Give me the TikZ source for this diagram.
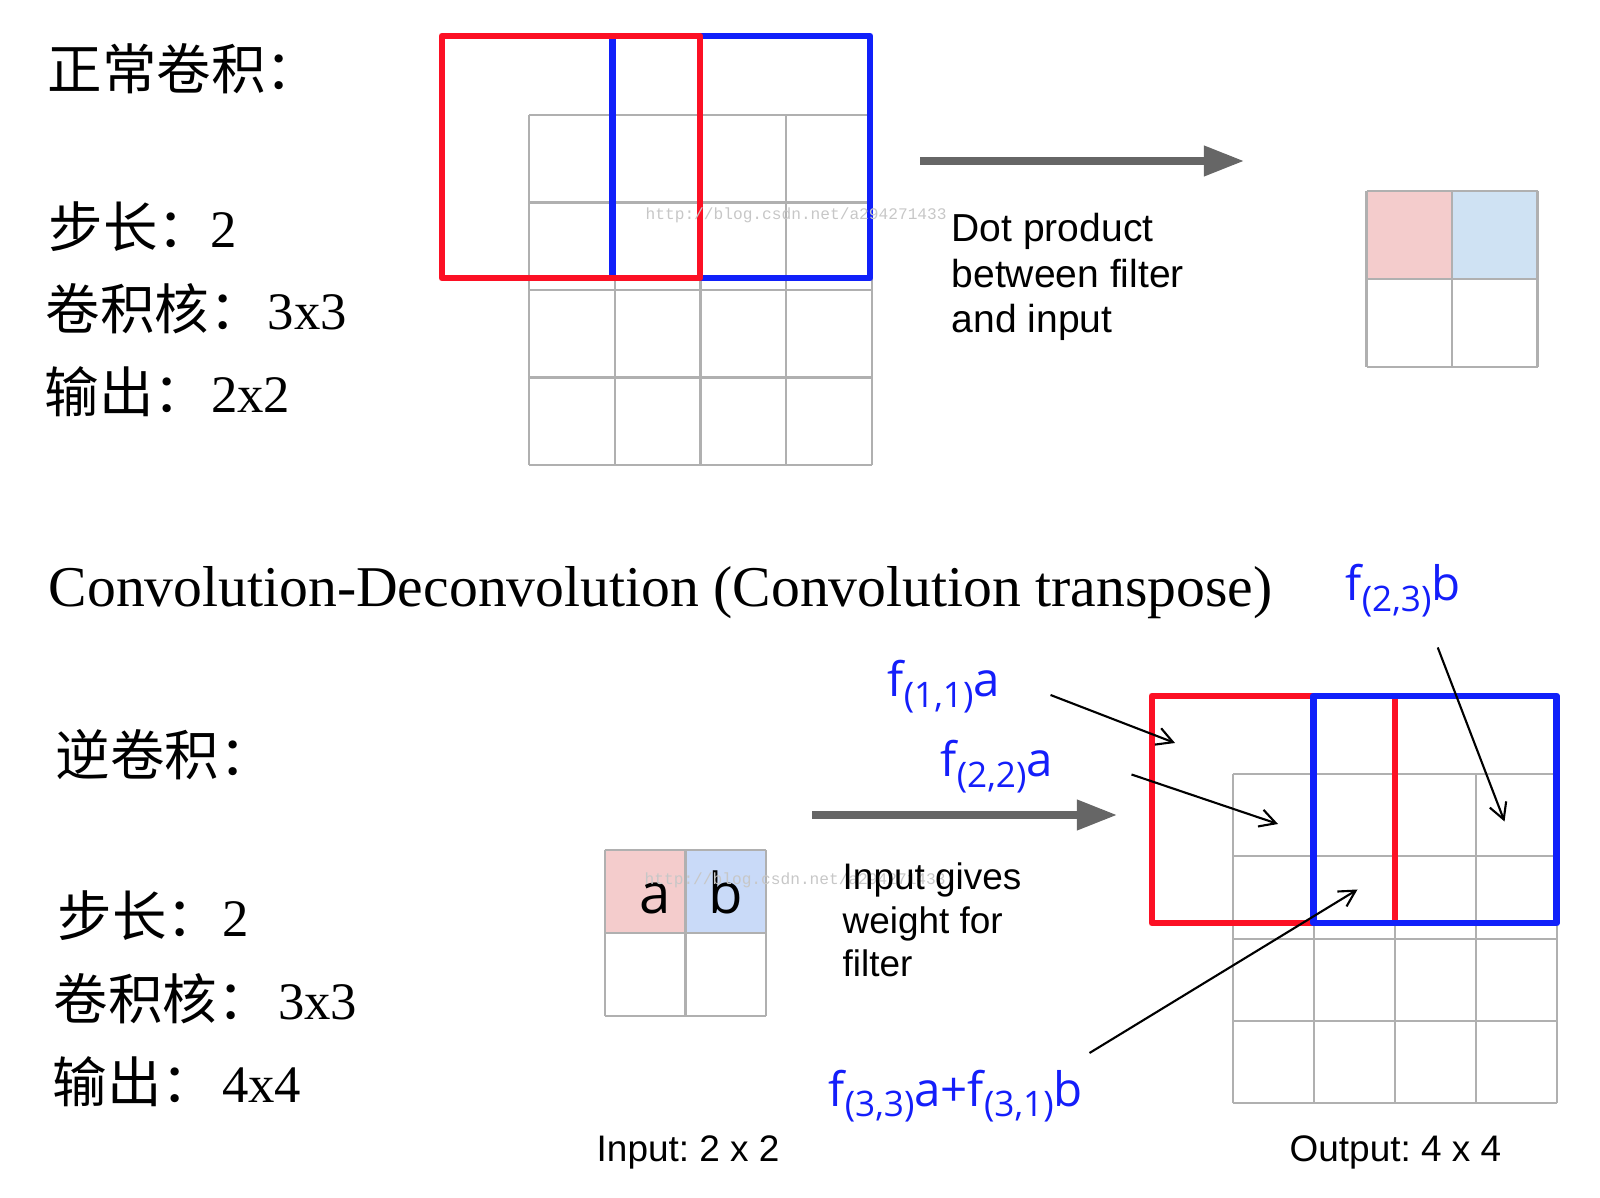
\documentclass[tikz,border=0pt]{standalone}
\usepackage{fontspec}
\setmainfont{Liberation Serif}
\setsansfont{Liberation Sans}
\newfontfamily\cjk{Noto Sans CJK SC}
\newfontfamily\osans{Open Sans}
\newfontfamily\wmfont{Liberation Mono}
\usetikzlibrary{arrows.meta}
\definecolor{filtred}{RGB}{252,16,36}
\definecolor{filtblue}{RGB}{16,32,250}
\definecolor{cellpink}{RGB}{244,204,204}
\definecolor{cellblue}{RGB}{207,226,243}
\definecolor{cellcorn}{RGB}{201,218,248}
\definecolor{gridgray}{RGB}{176,176,176}
\definecolor{arrgray}{RGB}{102,102,102}
\definecolor{lblblue}{RGB}{20,30,250}
\newcommand{\kvrow}[3]{\makebox[#2][l]{\cjk\fontsize{15.5}{18}\selectfont #1}#3}
\newcommand{\fsub}[1]{\raisebox{-3pt}{\fontsize{10}{12}\selectfont(#1)}}
\frenchspacing

\begin{document}
\begin{tikzpicture}[x=0.01cm, y=-0.01cm,
   cell/.style={draw=gridgray, line width=0.6pt},
   redwin/.style={draw=filtred, line width=1.9pt, line join=round},
   bluewin/.style={draw=filtblue, line width=1.9pt, line join=round},
   flow/.style={draw=arrgray, line width=2pt, -{Triangle[length=4mm,width=2.9mm]}},
   ptr/.style={line width=0.6pt, -{Straight Barb[length=1.6mm,width=1.75mm]}},
   zh/.style={anchor=base west, inner sep=0pt, font=\cjk\fontsize{15.5}{18}\selectfont},
   kv/.style={anchor=base west, inner sep=0pt, font=\fontsize{15}{18}\selectfont},
   note/.style={anchor=base west, inner sep=0pt, align=left, font=\sffamily\fontsize{10.5}{12.5}\selectfont},
   wt/.style={anchor=base west, inner sep=0pt, text=lblblue, font=\osans\fontsize{13.5}{16}\selectfont},
   wm/.style={anchor=base west, inner sep=0pt, text=black!22, font=\wmfont\fontsize{4.6}{5}\selectfont}]
  \useasboundingbox (0,0) rectangle (1600,1198);

  % normal convolution, left column
  \node[zh] (convhd) at (47,90) {正常卷积：};
  \node[kv] (stride1) at (48,248) {\kvrow{步长：}{45.9pt}{2}};
  \node[kv] (kern1) at (45,330) {\kvrow{卷积核：}{63.2pt}{3x3}};
  \node[kv] (out1) at (44,413) {\kvrow{输出：}{47.3pt}{2x2}};

  % 4x4 input with the two filter windows
  \foreach \c in {0,...,4} \draw[cell] (529.3+85.6*\c,115) -- (529.3+85.6*\c,465);
  \foreach \r in {0,...,4} \draw[cell] (529.3,115+87.5*\r) -- (871.7,115+87.5*\r);
  \draw[bluewin] (612.7,36) rectangle (870,278);
  \draw[redwin] (442,36) rectangle (700,278);
  \node[wm] (wm1) at (645,220) {http://blog.csdn.net/a294271433};

  \coordinate (dotfrom) at (920,161);
  \coordinate (dotto) at (1244,161);
  \draw[flow] (dotfrom) -- (dotto);
  % base of a multi-line node is its last line
  \node[note, font=\sffamily\fontsize{11.1}{13}\selectfont] (dotnote) at (951,333) {Dot product\\between filter\\and input};

  % 2x2 output
  \fill[cellpink] (1366.5,191) rectangle (1452,278.3);
  \fill[cellblue] (1452,191) rectangle (1537.5,278.3);
  \foreach \c in {0,...,2} \draw[cell] (1366.5+85.5*\c,191) -- (1366.5+85.5*\c,366.7);
  \foreach \r in {0,...,2} \draw[cell] (1366.5,191+87.85*\r) -- (1537.5,191+87.85*\r);

  \node[anchor=base west, inner sep=0pt, font=\fontsize{16.4}{19}\selectfont] (title) at (48,607)
    {Convolution-Deconvolution (Convolution transpose)};

  % transposed convolution, left column
  \node[zh] (deconvhd) at (55,776) {逆卷积：};
  \node[kv] (stride2) at (57,937) {\kvrow{步长：}{46.8pt}{2}};
  \node[kv] (kern2) at (53,1020) {\kvrow{卷积核：}{63.8pt}{3x3}};
  \node[kv] (out2) at (52,1102) {\kvrow{输出：}{48.2pt}{4x4}};

  % 2x2 input
  \fill[cellpink] (604.6,850.4) rectangle (685.7,933.6);
  \fill[cellcorn] (685.7,850.4) rectangle (766.4,933.6);
  \foreach \c in {0,...,2} \draw[cell] (604.6+80.9*\c,850.4) -- (604.6+80.9*\c,1015.7);
  \foreach \r in {0,...,2} \draw[cell] (604.6,850.4+82.65*\r) -- (766.4,850.4+82.65*\r);
  \node[anchor=base, inner sep=0pt, font=\osans\fontsize{16}{18}\selectfont] (ina) at (655,913) {a};
  \node[anchor=base, inner sep=0pt, font=\osans\fontsize{16}{18}\selectfont] (inb) at (726,913) {b};
  \node[wm] (wm2) at (644,885) {http://blog.csdn.net/a294271433};
  \node[note] (inlbl) at (596,1161) {Input: 2 x 2};

  \coordinate (wfrom) at (812,815);
  \coordinate (wto) at (1117,815);
  \draw[flow] (wfrom) -- (wto);
  \node[note] (wnote) at (842,977) {Input gives\\weight for\\filter};

  % 4x4 output with the two filter windows
  \foreach \c in {0,...,4} \draw[cell] (1233.3+80.85*\c,773.8) -- (1233.3+80.85*\c,1103.3);
  \foreach \r in {0,...,4} \draw[cell] (1233.3,773.8+82.4*\r) -- (1556.7,773.8+82.4*\r);
  \draw[redwin] (1152,696) rectangle (1395,923);
  \draw[bluewin] (1313.3,696) rectangle (1556.7,923);
  \node[note] (outlbl) at (1289,1161) {Output: 4 x 4};

  % weighted filter entries
  \node[wt] (w11) at (887,697) {f\fsub{1,1}a};
  \node[wt] (w22) at (940,777) {f\fsub{2,2}a};
  \node[wt] (w33) at (828,1106) {f\fsub{3,3}a+f\fsub{3,1}b};
  \node[wt] (w23) at (1345,601) {f\fsub{2,3}b};

  \coordinate (t11) at (1175,743);
  \coordinate (t22) at (1278,824);
  \coordinate (t33) at (1357.5,889.5);
  \coordinate (t23) at (1504.5,821.5);
  \draw[ptr] (w11.base east) ++(50,-2) -- (t11);
  \draw[ptr] (w22.base east) ++(78,-2.5) -- (t22);
  \draw[ptr] (w33.base east) ++(6,-53) -- (t33);
  \draw[ptr] (w23.base east) ++(-23.5,46.5) -- (t23);
\end{tikzpicture}
\end{document}
